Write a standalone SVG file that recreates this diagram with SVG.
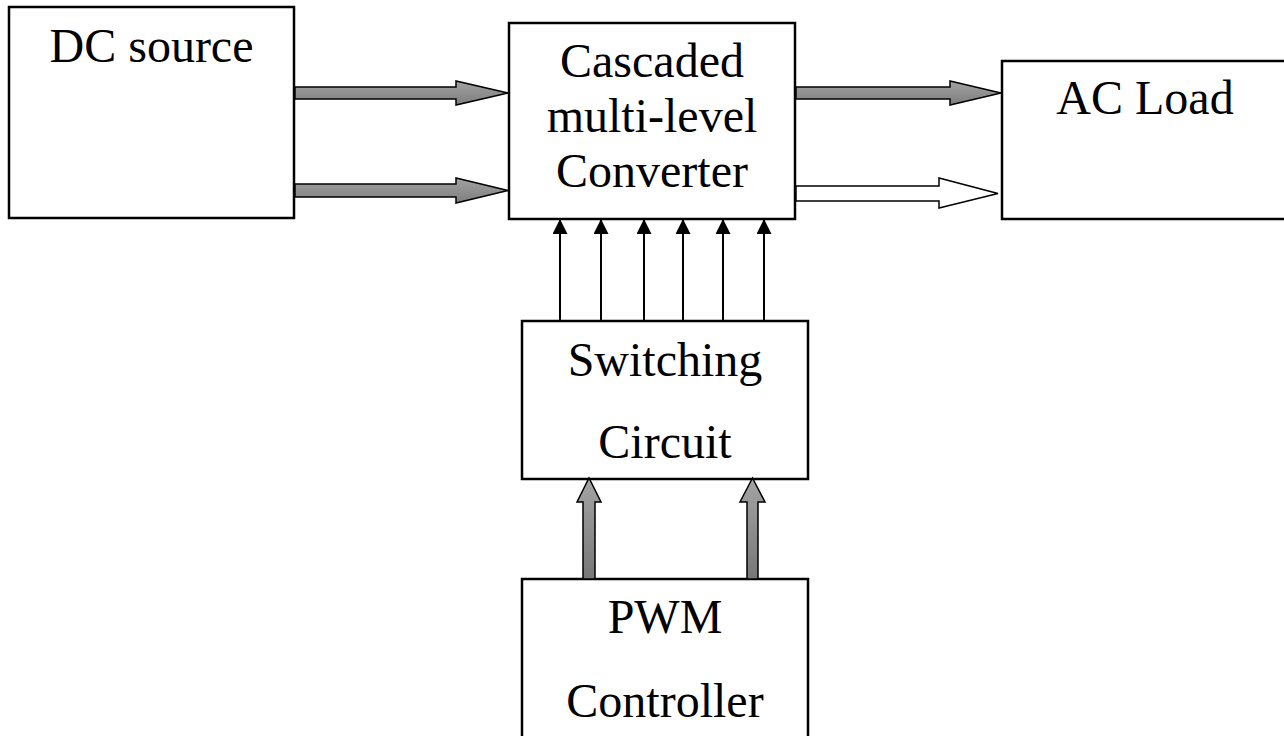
<svg xmlns="http://www.w3.org/2000/svg" width="1284" height="736" viewBox="0 0 1284 736">
<defs>
<linearGradient id="gh" x1="0" y1="0" x2="0" y2="1">
<stop offset="0" stop-color="#a2a2a2"/>
<stop offset="1" stop-color="#7e7e7e"/>
</linearGradient>
<linearGradient id="gv" x1="0" y1="0" x2="0" y2="1">
<stop offset="0" stop-color="#a4a4a4"/>
<stop offset="1" stop-color="#777777"/>
</linearGradient>
<marker id="ah" markerWidth="15" markerHeight="16" refX="15" refY="7.5" orient="auto" markerUnits="userSpaceOnUse">
<path d="M0,0 L15,7.5 L0,15 Z" fill="#000"/>
</marker>
</defs>
<style>
.box{fill:#fff;stroke:#000;stroke-width:2.5}
.t{font-family:"Liberation Serif","Times New Roman",serif;font-size:48px;fill:#000;text-anchor:middle}
.ga{fill:url(#gh);stroke:#000;stroke-width:1.5;stroke-linejoin:miter}
.gva{fill:url(#gv);stroke:#000;stroke-width:1.5}
.wa{fill:#fff;stroke:#000;stroke-width:1.5}
.sig{stroke:#000;stroke-width:2;fill:none;marker-end:url(#ah)}
</style>
<rect width="1284" height="736" fill="#fff"/>
<g id="dc-source">
<rect class="box" x="9" y="7" width="285" height="211"/>
<text class="t" x="151.5" y="62">DC source</text>
</g>
<g id="converter">
<rect class="box" x="509" y="23" width="286" height="196"/>
<text class="t" x="652" y="77">Cascaded</text>
<text class="t" x="652" y="132">multi-level</text>
<text class="t" x="652" y="187">Converter</text>
</g>
<g id="ac-load">
<rect class="box" x="1002" y="61" width="290" height="158"/>
<text class="t" x="1145" y="114">AC Load</text>
</g>
<g id="switching">
<rect class="box" x="522" y="321" width="286" height="158"/>
<text class="t" x="665" y="376">Switching</text>
<text class="t" x="665" y="458">Circuit</text>
</g>
<g id="pwm">
<rect class="box" x="522" y="579" width="286" height="170"/>
<text class="t" x="665" y="633">PWM</text>
<text class="t" x="665" y="717">Controller</text>
</g>
<g id="connectors">
<polygon class="ga" points="295,87 456,87 456,81 508,93 456,105 456,99 295,99"/>
<polygon class="ga" points="295,184 456,184 456,178 508,190.5 456,203 456,197 295,197"/>
<polygon class="ga" points="796,87 950,87 950,81 1001,93 950,105 950,99 796,99"/>
<polygon class="wa" points="796,186 939,186 939,178 998,193.5 939,208 939,201 796,201"/>
<line class="sig" x1="560" y1="321" x2="560" y2="219"/>
<line class="sig" x1="601" y1="321" x2="601" y2="219"/>
<line class="sig" x1="644" y1="321" x2="644" y2="219"/>
<line class="sig" x1="683" y1="321" x2="683" y2="219"/>
<line class="sig" x1="723" y1="321" x2="723" y2="219"/>
<line class="sig" x1="764" y1="321" x2="764" y2="219"/>
<polygon class="gva" points="583,579 583,502 577,502 589,478 601,502 595,502 595,579"/>
<polygon class="gva" points="747,579 747,502 740,502 752.5,478 765,502 758,502 758,579"/>
</g>
</svg>
